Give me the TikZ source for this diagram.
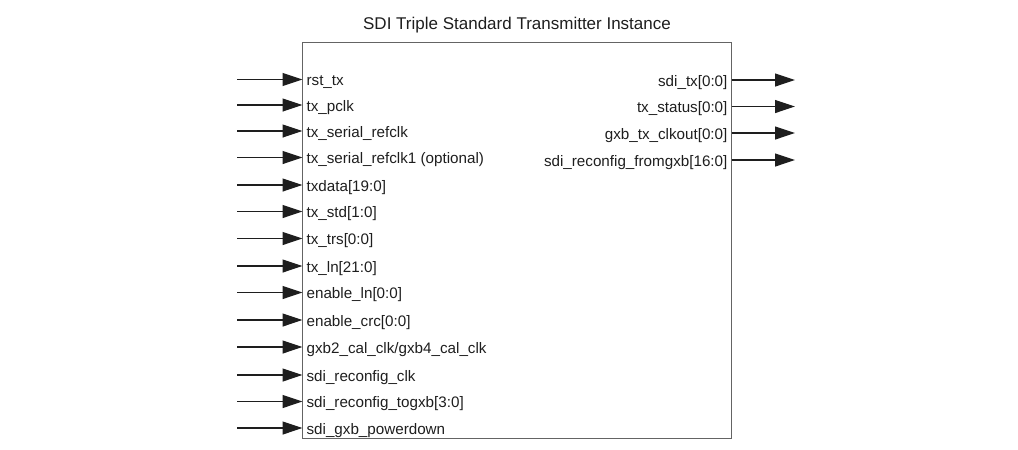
\documentclass[tikz,border=0pt]{standalone}
\usepackage{fontspec}
\setmainfont{Liberation Sans}
\usepackage{xcolor}
\usetikzlibrary{arrows.meta}

\definecolor{boxgray}{RGB}{100,100,100}
\definecolor{inkblack}{RGB}{30,30,30}

\begin{document}
\begin{tikzpicture}[
  x=1pt, y=-1pt,
  line width=1.2pt,  block/.style={draw=boxgray,line width=1.3pt,minimum width=429pt,minimum height=396pt,inner sep=0pt},  inport/.style={anchor=west,inner xsep=3.5pt,inner ysep=0pt,text height=14pt,text depth=2pt,font=\fontsize{15.2}{16}\selectfont,text=inkblack},  outport/.style={anchor=east,inner xsep=3.5pt,inner ysep=0pt,text height=14pt,text depth=2pt,font=\fontsize{15.2}{16}\selectfont,text=inkblack},  sig/.style={draw=inkblack,-{Triangle[length=20pt,width=13pt]}}
]
  \useasboundingbox (0,0) rectangle (1018,450);
  \node[anchor=base,font=\fontsize{17}{18}\selectfont,text=inkblack] (title) at (517,29.5) {SDI Triple Standard Transmitter Instance};
  \node[block] (tx) at (517,240.6) {};
  % inputs
  \node[inport] (i0) at (302.5,79.5) {rst\_tx};
  \node[inport] (i1) at (302.5,105.0) {tx\_pclk};
  \node[inport] (i2) at (302.5,131.0) {tx\_serial\_refclk};
  \node[inport] (i3) at (302.5,157.5) {tx\_serial\_refclk1 (optional)};
  \node[inport] (i4) at (302.5,185.0) {txdata[19:0]};
  \node[inport] (i5) at (302.5,211.5) {tx\_std[1:0]};
  \node[inport] (i6) at (302.5,238.5) {tx\_trs[0:0]};
  \node[inport] (i7) at (302.5,266.0) {tx\_ln[21:0]};
  \node[inport] (i8) at (302.5,292.5) {enable\_ln[0:0]};
  \node[inport] (i9) at (302.5,320.0) {enable\_crc[0:0]};
  \node[inport] (i10) at (302.5,347.0) {gxb2\_cal\_clk/gxb4\_cal\_clk};
  \node[inport] (i11) at (302.5,375.0) {sdi\_reconfig\_clk};
  \node[inport] (i12) at (302.5,401.5) {sdi\_reconfig\_togxb[3:0]};
  \node[inport] (i13) at (302.5,428.0) {sdi\_gxb\_powerdown};
  \coordinate (s0) at (237,79.5);
  \coordinate (s1) at (237,105.0);
  \coordinate (s2) at (237,131.0);
  \coordinate (s3) at (237,157.5);
  \coordinate (s4) at (237,185.0);
  \coordinate (s5) at (237,211.5);
  \coordinate (s6) at (237,238.5);
  \coordinate (s7) at (237,266.0);
  \coordinate (s8) at (237,292.5);
  \coordinate (s9) at (237,320.0);
  \coordinate (s10) at (237,347.0);
  \coordinate (s11) at (237,375.0);
  \coordinate (s12) at (237,401.5);
  \coordinate (s13) at (237,428.0);
  \draw[sig] (s0) -- (i0.west);
  \draw[sig] (s1) -- (i1.west);
  \draw[sig] (s2) -- (i2.west);
  \draw[sig] (s3) -- (i3.west);
  \draw[sig] (s4) -- (i4.west);
  \draw[sig] (s5) -- (i5.west);
  \draw[sig] (s6) -- (i6.west);
  \draw[sig] (s7) -- (i7.west);
  \draw[sig] (s8) -- (i8.west);
  \draw[sig] (s9) -- (i9.west);
  \draw[sig] (s10) -- (i10.west);
  \draw[sig] (s11) -- (i11.west);
  \draw[sig] (s12) -- (i12.west);
  \draw[sig] (s13) -- (i13.west);
  % outputs
  \node[outport] (o0) at (731.5,80.0) {sdi\_tx[0:0]};
  \node[outport] (o1) at (731.5,106.5) {tx\_status[0:0]};
  \node[outport] (o2) at (731.5,133.0) {gxb\_tx\_clkout[0:0]};
  \node[outport] (o3) at (731.5,160.0) {sdi\_reconfig\_fromgxb[16:0]};
  \coordinate (d0) at (795,80.0);
  \coordinate (d1) at (795,106.5);
  \coordinate (d2) at (795,133.0);
  \coordinate (d3) at (795,160.0);
  \draw[sig] (o0.east) -- (d0);
  \draw[sig] (o1.east) -- (d1);
  \draw[sig] (o2.east) -- (d2);
  \draw[sig] (o3.east) -- (d3);
\end{tikzpicture}
\end{document}
